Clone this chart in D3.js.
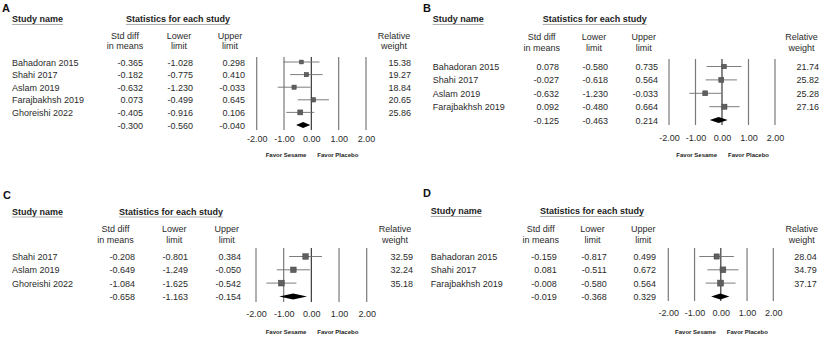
<!DOCTYPE html>
<html>
<head>
<meta charset="utf-8">
<script src="https://cdn.jsdelivr.net/npm/d3@7"></script>
<style>
  body { margin: 0; background: #fff; }
  svg { display: block; font-family: "Liberation Sans", Arial, sans-serif; }
</style>
</head>
<body>
<svg id="chart" width="822" height="338"></svg>
<script>
'use strict';

// ---- data ----
const studiesA = ["Bahadoran 2015", "Shahi 2017", "Aslam 2019", "Farajbakhsh 2019", "Ghoreishi 2022"];
const smdA     = [-0.365, -0.182, -0.632, 0.073, -0.405];
const lowerA   = [-1.028, -0.775, -1.230, -0.499, -0.916];
const upperA   = [0.298, 0.410, -0.033, 0.645, 0.106];
const weightA  = [15.38, 19.27, 18.84, 20.65, 25.86];
const pooledA  = [-0.300, -0.560, -0.040];

const studiesB = ["Bahadoran 2015", "Shahi 2017", "Aslam 2019", "Farajbakhsh 2019"];
const smdB     = [0.078, -0.027, -0.632, 0.092];
const lowerB   = [-0.580, -0.618, -1.230, -0.480];
const upperB   = [0.735, 0.564, -0.033, 0.664];
const weightB  = [21.74, 25.82, 25.28, 27.16];
const pooledB  = [-0.125, -0.463, 0.214];

const studiesC = ["Shahi 2017", "Aslam 2019", "Ghoreishi 2022"];
const smdC     = [-0.208, -0.649, -1.084];
const lowerC   = [-0.801, -1.249, -1.625];
const upperC   = [0.384, -0.050, -0.542];
const weightC  = [32.59, 32.24, 35.18];
const pooledC  = [-0.658, -1.163, -0.154];

const studiesD = ["Bahadoran 2015", "Shahi 2017", "Farajbakhsh 2019"];
const smdD     = [-0.159, 0.081, -0.008];
const lowerD   = [-0.817, -0.511, -0.580];
const upperD   = [0.499, 0.672, 0.564];
const weightD  = [28.04, 34.79, 37.17];
const pooledD  = [-0.019, -0.368, 0.329];

const axisTicks = [-2, -1, 0, 1, 2];
const colTitles = [["Std diff", "in means"], ["Lower", "limit"], ["Upper", "limit"], ["Relative", "weight"]];

// ---- layout per panel ----
const panels = [
  { letter: "A", studies: studiesA, smd: smdA, lower: lowerA, upper: upperA, weight: weightA, pooled: pooledA,
    lx: 2, ly: 12, nameX: 12, statX: 126, headY: 22, colY: [39, 49],
    rowY: 65.5, rowStep: 12.6, colR: [143, 193, 245, 411], colC: [125, 179, 230, 394],
    x0: 256.7, x1: 366, lineTop: 57, lineBot: 130, tickY: 142, favorY: 157 },
  { letter: "B", studies: studiesB, smd: smdB, lower: lowerB, upper: upperB, weight: weightB, pooled: pooledB,
    lx: 423, ly: 12, nameX: 432.7, statX: 542.7, headY: 22, colY: [40, 51],
    rowY: 70, rowStep: 13.4, colR: [559, 608, 658, 819], colC: [541.7, 594, 643.7, 801.5],
    x0: 669, x1: 775, lineTop: 59, lineBot: 125, tickY: 140.5, favorY: 157 },
  { letter: "C", studies: studiesC, smd: smdC, lower: lowerC, upper: upperC, weight: weightC, pooled: pooledC,
    lx: 3, ly: 199, nameX: 12, statX: 119, headY: 214.5, colY: [232, 242.5],
    rowY: 260, rowStep: 13.3, colR: [135, 188, 241, 413], colC: [115.5, 174.2, 226.8, 395],
    x0: 256, x1: 366.7, lineTop: 248, lineBot: 302, tickY: 316.7, favorY: 334 },
  { letter: "D", studies: studiesD, smd: smdD, lower: lowerD, upper: upperD, weight: weightD, pooled: pooledD,
    lx: 423, ly: 197, nameX: 430.7, statX: 540, headY: 214, colY: [232, 242.5],
    rowY: 260, rowStep: 13.3, colR: [556.7, 606.7, 656, 816.7], colC: [540.8, 592.5, 643.3, 801.7],
    x0: 668.3, x1: 773.3, lineTop: 248, lineBot: 301, tickY: 316, favorY: 334 }
];

const loc = d3.formatLocale({ decimal: ".", thousands: ",", grouping: [3], currency: ["", ""], minus: "-" });
const f3 = loc.format(".3f");
const f2 = loc.format(".2f");
const boxSize = d3.scaleSqrt().domain([0, 40]).range([0, 6.2]);

const svg = d3.select("#chart");
const textCol = "#2b2b2b";

function underlined(g, text, x, y) {
  const t = g.append("text").text(text)
    .attr("x", x).attr("y", y)
    .attr("font-size", "9px").attr("font-weight", "bold").attr("fill", "#222");
  const w = t.node().getComputedTextLength();
  g.append("line")
    .attr("x1", x).attr("x2", x + w)
    .attr("y1", y + 2.5).attr("y2", y + 2.5)
    .attr("stroke", "#999").attr("stroke-width", 0.8);
}

panels.forEach(function (p) {
  const g = svg.append("g");
  const n = p.studies.length;

  const xScale = d3.scaleLinear().domain([-2, 2]).range([p.x0, p.x1]);
  const yScale = d3.scaleLinear().domain([0, 1]).range([p.rowY, p.rowY + p.rowStep]);

  g.append("text").text(p.letter)
    .attr("x", p.lx).attr("y", p.ly)
    .attr("font-size", "11px").attr("font-weight", "bold").attr("fill", "#111");

  underlined(g, "Study name", p.nameX, p.headY);
  underlined(g, "Statistics for each study", p.statX, p.headY);

  colTitles.forEach(function (pair, c) {
    pair.forEach(function (s, k) {
      g.append("text").text(s)
        .attr("x", p.colC[c]).attr("y", p.colY[k])
        .attr("text-anchor", "middle")
        .attr("font-size", "9px").attr("fill", textCol);
    });
  });

  // study rows
  const rows = d3.range(n);
  g.selectAll(".name").data(rows).join("text")
    .attr("x", p.nameX).attr("y", function (i) { return yScale(i); })
    .attr("font-size", "9px").attr("fill", textCol)
    .text(function (i) { return p.studies[i]; });

  const cols = [p.smd, p.lower, p.upper];
  cols.forEach(function (arr, c) {
    g.selectAll(".c" + c).data(arr.concat([p.pooled[c]])).join("text")
      .attr("x", p.colR[c]).attr("y", function (d, i) { return yScale(i); })
      .attr("text-anchor", "end")
      .attr("font-size", "9px").attr("fill", textCol)
      .text(function (d) { return f3(d); });
  });

  g.selectAll(".w").data(p.weight).join("text")
    .attr("x", p.colR[3]).attr("y", function (d, i) { return yScale(i); })
    .attr("text-anchor", "end")
    .attr("font-size", "9px").attr("fill", textCol)
    .text(function (d) { return f2(d); });

  // reference lines
  g.selectAll(".ref").data(axisTicks).join("line")
    .attr("x1", function (d) { return xScale(d); })
    .attr("x2", function (d) { return xScale(d); })
    .attr("y1", p.lineTop).attr("y2", p.lineBot)
    .attr("stroke", function (d) { return d === 0 ? "#3a3a3a" : "#7a7a7a"; })
    .attr("stroke-width", 1.2);

  // confidence intervals and boxes
  g.selectAll(".ci").data(rows).join("line")
    .attr("x1", function (i) { return xScale(p.lower[i]); })
    .attr("x2", function (i) { return xScale(p.upper[i]); })
    .attr("y1", function (i) { return yScale(i) - 3.5; })
    .attr("y2", function (i) { return yScale(i) - 3.5; })
    .attr("stroke", "#6e6e6e").attr("stroke-width", 0.9);

  g.selectAll(".box").data(rows).join("rect")
    .attr("x", function (i) { return xScale(p.smd[i]) - boxSize(p.weight[i]) / 2; })
    .attr("y", function (i) { return yScale(i) - 3.5 - boxSize(p.weight[i]) / 2; })
    .attr("width", function (i) { return boxSize(p.weight[i]); })
    .attr("height", function (i) { return boxSize(p.weight[i]); })
    .attr("fill", "#5f5f5f").attr("stroke", "#444").attr("stroke-width", 0.5);

  // pooled diamond
  const cy = yScale(n) - 3.5;
  const dia = [[xScale(p.pooled[1]), cy], [xScale(p.pooled[0]), cy - 3],
               [xScale(p.pooled[2]), cy], [xScale(p.pooled[0]), cy + 3]];
  g.append("path")
    .attr("d", d3.line()(dia) + "Z")
    .attr("fill", "#000");

  // tick labels
  const axis = d3.axisBottom(xScale).tickValues(axisTicks).tickSize(0).tickPadding(0).tickFormat(f2);
  const ax = g.append("g")
    .attr("transform", "translate(0," + p.tickY + ")")
    .call(axis);
  ax.select(".domain").remove();
  ax.selectAll("text")
    .attr("dy", 0).attr("y", 0)
    .attr("font-size", "9px").attr("fill", textCol)
    .attr("font-family", "Liberation Sans, Arial, sans-serif");

  const x0 = xScale(0);
  g.append("text").text("Favor Sesame")
    .attr("x", x0 - 5).attr("y", p.favorY)
    .attr("text-anchor", "end")
    .attr("font-size", "6px").attr("font-weight", "bold").attr("fill", "#222");
  g.append("text").text("Favor Placebo")
    .attr("x", x0 + 6).attr("y", p.favorY)
    .attr("font-size", "6px").attr("font-weight", "bold").attr("fill", "#222");
});
</script>
</body>
</html>
